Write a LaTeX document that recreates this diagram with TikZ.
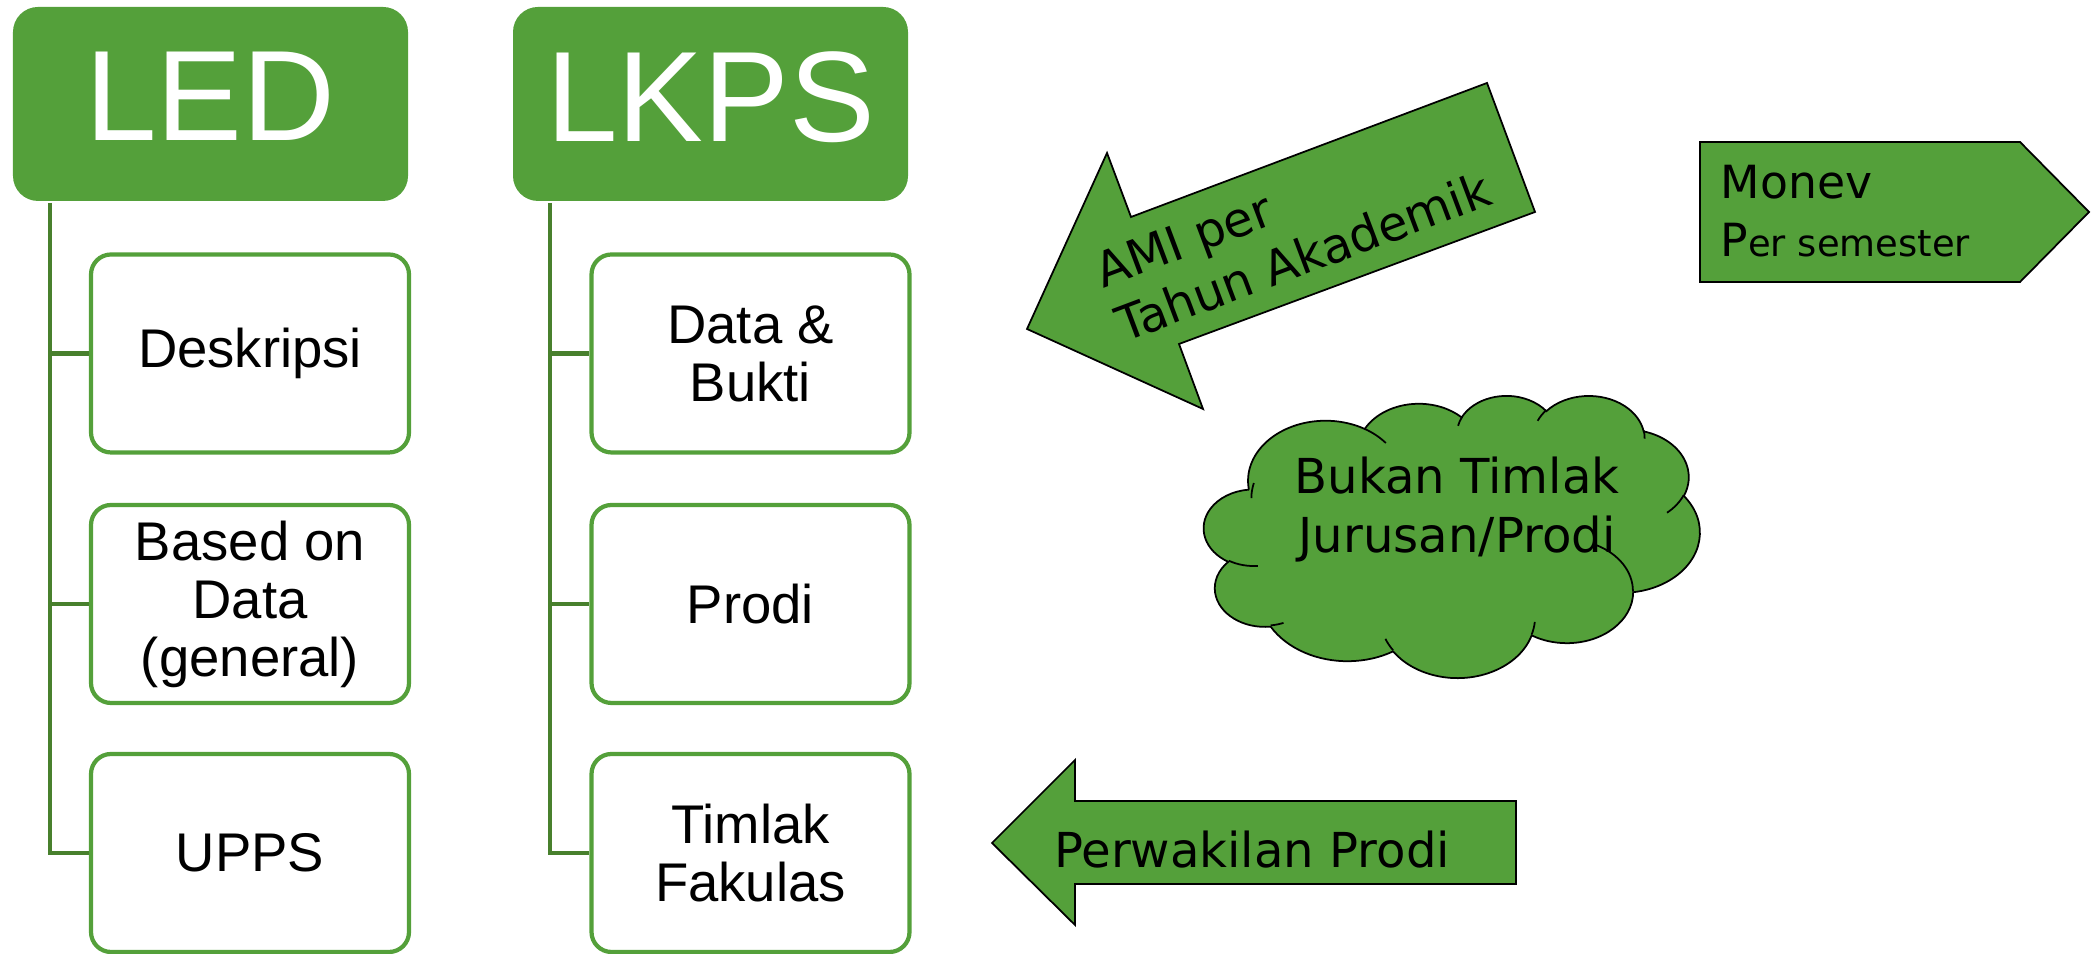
\documentclass[tikz,border=0pt]{standalone}
\usepackage{fontspec}
\setmainfont{Liberation Sans}
\newfontfamily\verdana{DejaVu Sans}
\usetikzlibrary{calc}
\definecolor{leaf}{RGB}{84,160,58}
\definecolor{stem}{RGB}{72,128,45}
\tikzset{
 header/.style={fill=leaf,rounded corners=2.5mm,minimum width=3.95cm,minimum height=1.94cm,text depth=1.5mm,
  inner sep=0,text=white,font=\fontsize{36.6}{40}\selectfont},
 leafbox/.style={draw=leaf,line width=1.2pt,fill=white,rounded corners=2mm,minimum width=3.18cm,minimum height=1.98cm,
  inner sep=0,align=center,font=\fontsize{15.5}{16.5}\selectfont},
 trunk/.style={draw=stem,line width=1.4pt},
 arrowshape/.style={draw=black,fill=leaf,line width=0.5pt,line join=miter},
 note/.style={inner sep=0,font=\verdana\fontsize{13.7}{16.5}\selectfont}
}
% elliptical arc of an office shape: radii, start angle and sweep as seen on the page
\newcommand\pptarc[4]{arc[x radius=#1,y radius=#2,
 start angle={atan2((#1)*sin(#3),(#2)*cos(#3))},
 delta angle={mod(atan2((#1)*sin((#3)+(#4)),(#2)*cos((#3)+(#4)))-atan2((#1)*sin(#3),(#2)*cos(#3))+720,360)}]}
\begin{document}
\begin{tikzpicture}
\useasboundingbox(0,0)rectangle(20.91,9.54);
%headers
\node[header](led)at(2.105,8.50){LED};
\node[header](lkps)at(7.105,8.50){LKPS};
%boxes
\node[leafbox](deskripsi)at(2.50,6.005){Deskripsi};
\node[leafbox](based)at(2.50,3.50){Based on\\Data\\(general)};
\node[leafbox](upps)at(2.50,1.01){UPPS};
\node[leafbox](bukti)at(7.505,6.005){Data \&\\Bukti};
\node[leafbox](prodi)at(7.505,3.50){Prodi};
\node[leafbox](fakulas)at(7.505,1.01){Timlak\\Fakulas};
%trunks
\coordinate(ledroot)at(0.50,7.51);
\coordinate(lkpsroot)at(5.50,7.51);
\draw[trunk](ledroot)|-(upps.west);
\draw[trunk](lkpsroot)|-(fakulas.west);
\foreach \child in {deskripsi,based}
{
\draw[trunk](ledroot|-\child.west)--(\child.west);
}
\foreach \child in {bukti,prodi}
{
\draw[trunk](lkpsroot|-\child.west)--(\child.west);
}
%arrows
\draw[arrowshape](10.27,6.25)--(11.07,8.01)--(11.31,7.37)--(14.87,8.71)--(15.35,7.42)--(11.79,6.10)--(12.03,5.45)--cycle;
\node[note,rotate=20.6,align=left](ami)at(12.93,7.24){AMI per\\Tahun Akademik};
\draw[arrowshape](9.92,1.11)--(10.75,1.94)--(10.75,1.53)--(15.16,1.53)--(15.16,0.70)--(10.75,0.70)--(10.75,0.29)--cycle;
\node[note,anchor=base](perwakilan)at(12.52,0.86){Perwakilan Prodi};
\draw[arrowshape](17.00,8.12)--(20.20,8.12)--(20.89,7.42)--(20.20,6.72)--(17.00,6.72)--cycle;
\node[note,anchor=base west,font=\verdana\fontsize{13}{15}\selectfont](monev)at(17.20,7.55){Monev};
\node[note,anchor=base west,font=\verdana\fontsize{13}{15}\selectfont](semester)at(17.20,6.97){P{\fontsize{10.5}{12}\selectfont er semester}};
%cloud
\begin{scope}[shift={(12.04,5.59)},x=0.011481cm,y=-0.0065278cm]
\draw[arrowshape](39.00,143.70)\pptarc{67.53}{91.90}{-190.4875}{123.7805}
 \pptarc{53.33}{72.67}{-144.1024}{89.9452}
 \pptarc{43.65}{59.45}{-145.8079}{99.7230}
 \pptarc{48.57}{65.95}{-130.9861}{117.2417}
 \pptarc{53.33}{72.73}{-78.7089}{109.0269}
 \pptarc{67.75}{92.20}{-46.2673}{130.2690}
 \pptarc{57.85}{78.67}{0.6250}{114.0333}
 \pptarc{67.52}{92.15}{22.4516}{115.1726}
 \pptarc{77.20}{105.43}{66.2426}{75.7110}
 \pptarc{43.60}{59.18}{-274.9421}{146.7356}
 \pptarc{43.45}{59.45}{-246.8285}{152.5189}--cycle;
\draw[line width=0.5pt](46.93,261.77)\pptarc{43.45}{59.45}{86.742}{26.4295}
 (69.28,348.99)\pptarc{43.60}{59.18}{73.6105}{11.4475}
 (164.78,390.90)\pptarc{67.52}{92.15}{137.6242}{14.0811}
 (288.27,347.51)\pptarc{67.52}{92.15}{6.4533}{15.9984}
 (341.29,229.54)\pptarc{57.85}{78.67}{-70.2924}{70.9174}
 (417.98,153.54)\pptarc{53.33}{72.73}{30.3180}{27.7515}
 (383.24,54.26)\pptarc{48.57}{65.95}{-13.7443}{14.8589}
 (290.78,39.52)\pptarc{48.57}{65.95}{-149.1815}{18.1954}
 (221.41,47.20)\pptarc{43.65}{59.45}{-163.4943}{17.6864}
 (140.00,51.92)\pptarc{67.53}{91.90}{-66.7070}{19.0955}
 (41.27,157.89)\pptarc{67.53}{91.90}{180}{19.4308};
\end{scope}
\node[note,align=center,font=\verdana\fontsize{13.7}{16.8}\selectfont](bukan)at(14.57,4.445){Bukan Timlak\\Jurusan/Prodi};
\end{tikzpicture}
\end{document}
